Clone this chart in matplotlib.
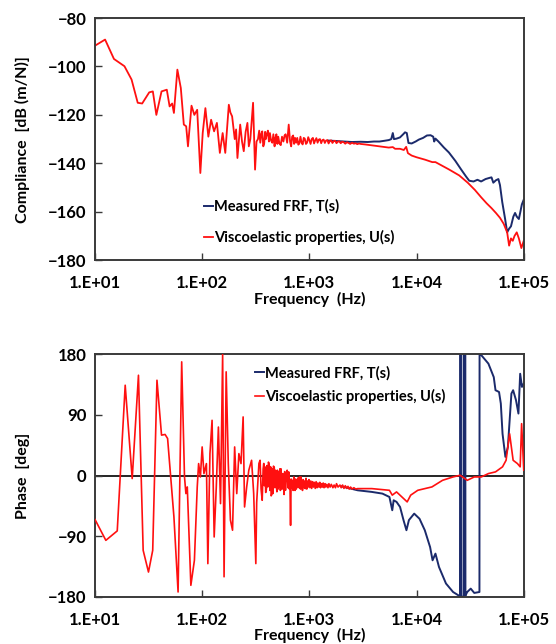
import matplotlib
matplotlib.use("Agg")
import matplotlib.pyplot as plt

# ---------------- data ----------------
mag_red_freq = [10, 12.4, 15, 18.8, 21.9, 25, 27.5, 32, 34.6, 37.3, 41.7, 46.7, 49.6, 52.4, 54.4,
                58.6, 63.1, 67.3, 70.8, 73.6, 79.4, 84.4, 89.7, 96, 101, 107, 114, 121, 129, 137,
                146, 155, 164, 177, 183, 190, 201, 207, 213, 226, 235, 244, 254, 264, 272, 281,
                298, 311, 321,
                331, 340, 348, 356, 363, 371, 378, 386, 392, 400, 410, 419, 428, 438, 450, 461,
                473, 482, 492, 502, 512, 525, 540, 555, 572, 586, 600, 620, 641, 660, 676, 690,
                705, 720, 735, 752, 770, 788, 805, 825, 845, 865, 885, 905, 928, 950, 975, 1000,
                1025, 1050, 1078, 1105, 1133, 1162, 1192, 1222, 1255, 1288, 1322, 1357, 1393,
                1430, 1470, 1510, 1550, 1595, 1640, 1690, 1740, 1790, 1845, 1900, 1960, 2020,
                2090, 2160, 2240, 2320, 2400, 2500, 2600, 2700, 2800, 2900, 3000,
                3300, 3700, 4200, 4800, 5500, 6000, 6300, 7000, 7600, 8000, 8300, 9000, 10000,
                12000, 14000, 15000, 17000, 20000, 25000, 30000, 35000, 40000, 45000, 50000,
                55000, 60000, 65000, 70000, 73000, 76000, 79000, 82000, 86000, 90000, 95000,
                100000]
mag_red_db = [-91.4, -88.9, -96.9, -99.9, -105.4, -115, -115.3, -110.7, -110.3, -120, -110.3,
              -109.6, -116.5, -115.3, -119.2, -101.3, -108.9, -124, -124.7, -133, -116.2, -120,
              -117.9, -144, -127.5, -117.2, -129, -122, -126.8, -123.3, -135.7, -127.5, -135.7,
              -115.8, -119, -120.6, -130, -126, -137.8, -124, -131, -135, -127, -123.3, -133,
              -130, -115, -142.6, -131,
              -130, -126.5, -131.5, -127.8, -126.8, -133, -132, -127, -130, -128, -126.5, -131,
              -127.5, -130.5, -131.5, -128, -133, -129.5, -128, -132, -129, -131.8, -132.5,
              -129, -131, -128.5, -128, -131.5, -124, -131, -133, -129, -128.5, -132, -129.5,
              -131.5, -129.5, -132.3, -131.8, -129, -131.5, -132.2, -129.5, -129.8, -132,
              -131.5, -129.2, -130.5, -132, -130, -129.5, -131.8, -130.5, -129.6, -131.5,
              -130.2, -130, -131.7, -130.4, -130.2, -131.6, -130.6, -130.4, -131.8, -130.8,
              -130.5, -131.6, -130.8, -130.7, -131.7, -131, -130.9, -131.7, -131.1, -131.3,
              -131.9, -131.3, -131.6, -132, -131.5, -131.9, -131.7, -132.1, -131.8, -132,
              -132.2, -132.5, -132.8, -133.2, -133.5, -133.3, -134, -134, -134.5, -133.2,
              -135.8, -136.8, -137.5, -138.5, -139.5, -139.5, -140.8, -142.5, -145, -148, -151,
              -154, -156.5, -158.5, -160.5, -162.5, -165, -168.5, -174, -171, -172, -170,
              -168.5, -171, -175, -172]

mag_blue_freq = [1500, 1800, 2100, 2500, 3000, 3500, 4000, 4500, 5000, 5500, 5800, 6000, 6150,
                 6500, 7000, 7500, 7800, 8100, 8400, 9000, 9800, 10500, 11500, 12500, 13500,
                 14300, 14600, 15000, 16000, 18000, 20000, 23000, 26000, 29000, 31000, 34000,
                 37000, 40000, 44000, 48000, 50000, 52000, 55000, 58000, 60000, 63000, 67000,
                 70000, 73000, 76000, 80000, 83000, 86000, 90000, 93000, 96000, 100000]
mag_blue_db = [-130.6, -130.8, -131, -131.2, -131.1, -131.2, -131, -131, -130.7, -130.4, -130,
               -127.5, -130, -129.8, -129.3, -128, -127.2, -127.5, -131.6, -131.8, -131, -130.2,
               -129.5, -128.5, -128.4, -129, -131, -129.8, -131, -133.5, -135.5, -139, -142.5,
               -145.5, -147.2, -147.5, -146.8, -147.5, -146.5, -146, -145.8, -148, -147, -146.5,
               -149, -156, -163, -168.5, -167, -166, -162, -160.5, -162, -163, -160, -157, -155]

ph_red_freq = [10, 12.6, 16.1, 19.1, 22.2, 25.4, 28.1, 31.5, 34.5, 37.8, 41.7, 45, 47.5, 54.4,
               59.5, 64.3, 68.3, 70.4, 72.5, 78.3, 84.5, 89.8, 92.5, 96.1, 99.8, 103.7, 109.4,
               112.8, 118.0, 123.5, 129.2, 135.2, 141.5, 148.1, 155.0, 159.8, 167.2, 175.0,
               183.2, 191.7, 200.6, 209.9, 219.7, 230.0, 240.7, 248.2, 259.8, 271.9, 288.7,
               302.0, 316.2, 322, 331, 338, 346.5, 354, 362.6, 370, 375, 380, 385.3, 391, 397,
               403, 409.4, 415, 422, 428, 435.1, 440, 445, 450, 455.5, 462, 470, 477, 484.1,
               490, 497, 503, 510, 516, 522.4, 530, 536, 543, 550, 556, 563.8, 570, 580, 588,
               598, 608, 620, 630, 641, 650, 658, 667, 675, 684, 697, 705, 715, 725, 735, 745,
               755, 765, 776, 788, 800, 812, 825, 836, 850, 862, 875, 890, 905, 916, 930, 945,
               960, 975, 990, 1011, 1030, 1050, 1070, 1090, 1110, 1133, 1155, 1178, 1200, 1225,
               1250, 1270, 1300, 1325, 1345, 1370, 1400, 1423, 1455, 1490, 1520, 1560, 1600,
               1656, 1700, 1750, 1790, 1850, 1928, 1980, 2040, 2100, 2161, 2230, 2290, 2350,
               2422, 2500, 2600, 2700, 2820,
               3820, 5580, 5930, 6500, 7560, 8170, 8810, 10260, 11930, 13900, 17460, 21900,
               25500, 29680, 34540, 40200, 46800, 54500, 63400, 68400, 73800, 79600, 87300,
               92600, 95500, 100000]
ph_red_deg = [-65.3, -96, -82, 134, -4.4, 148.8, -110.8, -143, -110.8, 141.4, 60, 61, 55, -61,
              -172.6, 168.6, -2, -26.7, -16.8, -162.7, -125.6, -16.8, 17.8, -2, 42.5, 3, 17.8,
              -130.5, 32.6, 82, -91, -16.8, 72, -41.5, 180, -150, 153.8, 17.8, -66, -81, 42.5,
              -26.7, 32.6, 17.8, 87, -46.5, -16.8, 7.9, 22.7, -26.7,
              -130.5, -40, -7, 18, 22.7, -20, -36.6, 10, 18, -15, 12.9, -25, -20, 15, -16.8,
              20, 15, -22, 12.9, -30, -28, 10, -26.7, 14, 12, -18, 7.9, -10, -24, 8, -20, 5,
              -16.8, 10, -22, 10, -12, -20, 3, -8, -28, 6, -21.8, -2, 8, -18, 5.5, -20, -10,
              -73.7, -5, -18, -7, -22, -2, -16, -22, -5, -20, -8, -16.8, -3, -18, -2, -20, -2,
              -15, -22, -6, -18, -8, -19.3, -4, -20, -8, -17, -6, -18, -8, -19, -9, -17, -10,
              -19, -9, -18, -11, -17, -10, -18, -12, -17, -11, -18, -12, -17, -13, -18, -12,
              -17, -13, -18, -14, -18, -12, -17, -14, -18, -14, -19, -15, -19, -16, -20, -17,
              -20, -18, -20, -19.3,
              -19.3, -21.8, -29, -24.2, -34, -39, -29, -21.8, -19.3, -16.8, -7, -2, 0.5, -7,
              -2, -2, 3, 5.5, 13, 22.7, 62, 22.7, 17.8, 13, 77, 8]

ph_blue_freq = [2000, 2820, 3820, 4800, 5580, 5930, 6110, 6500, 7010, 7560, 8040, 8480, 9500,
                10650, 11930, 13370, 14100, 15000, 16180, 18800, 21900, 25400, 25500, 25900,
                26000, 27400, 27500, 28500, 28560, 29680, 32000, 34540, 38600, 38700, 40200,
                46800, 52500, 54500, 58800, 61100, 63400, 67400, 71100, 76700, 79600, 84600,
                89200, 92600, 96200, 100000]
ph_blue_deg = [-16, -21.8, -24.2, -26.7, -31.7, -51.4, -36.6, -39, -46.5, -66.3, -81, -66,
               -56.4, -64, -81, -106, -125.6, -115.7, -135.5, -160, -172.6, -179, 180, 180,
               -180, -179, 180, 180, -178, -172.6, -167.6, -174, -172.6, 180, 178.5, 166, 146,
               126.6, 124, 106.8, 62, 27.7, 42.5, 121.6, 126.6, 112, 92, 151, 131.5, 136.5]

x_ticks = [1e1, 1e2, 1e3, 1e4, 1e5]
x_ticklabels = ["1.E+01", "1.E+02", "1.E+03", "1.E+04", "1.E+05"]
mag_yticks = [-80, -100, -120, -140, -160, -180]
ph_yticks = [180, 90, 0, -90, -180]

label_blue = "Measured FRF, T(s)"
label_red = "Viscoelastic properties, U(s)"

# ---------------- styling ----------------
plt.rcParams['font.family'] = ['Lato', 'DejaVu Sans']
plt.rcParams['font.weight'] = 'bold'
BLUE = "#1b2a6b"
RED = "#ff1010"
SPINE = "#3a3a3a"

fig = plt.figure(figsize=(5.56, 6.44), dpi=100)
ax1 = fig.add_axes([0.171, 0.596, 0.771, 0.376])
ax2 = fig.add_axes([0.171, 0.073, 0.771, 0.377])

def style(ax):
    ax.set_xscale('log')
    ax.set_xlim(1e1, 1e5)
    ax.set_xticks(x_ticks)
    ax.set_xticklabels(x_ticklabels)
    ax.minorticks_off()
    ax.tick_params(axis='both', direction='in', length=5, width=1.0, color=SPINE,
                   labelsize=12)
    ax.tick_params(axis='x', pad=11)
    ax.tick_params(axis='y', pad=6)
    for lab in ax.get_xticklabels() + ax.get_yticklabels():
        lab.set_fontweight('bold')
    for s in ax.spines.values():
        s.set_color(SPINE)
        s.set_linewidth(1.4)
    ax.set_xlabel("Frequency  (Hz)", fontsize=11.5, fontweight='bold', labelpad=0)

# top: magnitude
ax1.plot(mag_blue_freq, mag_blue_db, color=BLUE, lw=1.4, label=label_blue)
ax1.plot(mag_red_freq, mag_red_db, color=RED, lw=1.3, label=label_red)
ax1.set_ylim(-180, -80)
ax1.set_yticks(mag_yticks)
style(ax1)
ax1.set_ylabel("Compliance  [dB (m/N)]", fontsize=11.5, fontweight='bold', labelpad=13)
leg1 = ax1.legend(loc='upper left', bbox_to_anchor=(0.24, 0.275), frameon=False,
                  fontsize=10.5, handlelength=0.6, handletextpad=0.1, labelspacing=1.1,
                  borderaxespad=0)
for t in leg1.get_texts():
    t.set_fontweight('bold')

# bottom: phase
ax2.axhline(0, color='black', lw=1.2, zorder=1)
ax2.plot(ph_blue_freq, ph_blue_deg, color=BLUE, lw=1.4, label=label_blue, zorder=2)
ax2.plot(ph_red_freq, ph_red_deg, color=RED, lw=1.2, label=label_red, zorder=3)
ax2.set_ylim(-180, 180)
ax2.set_yticks(ph_yticks)
style(ax2)
ax2.set_ylabel("Phase  [deg]", fontsize=11.5, fontweight='bold', labelpad=13)
leg2 = ax2.legend(loc='upper left', bbox_to_anchor=(0.36, 0.975), frameon=False,
                  fontsize=10.5, handlelength=0.6, handletextpad=0.1, labelspacing=0.6,
                  borderaxespad=0)
for t in leg2.get_texts():
    t.set_fontweight('bold')

fig.savefig("out.png", dpi=100)
